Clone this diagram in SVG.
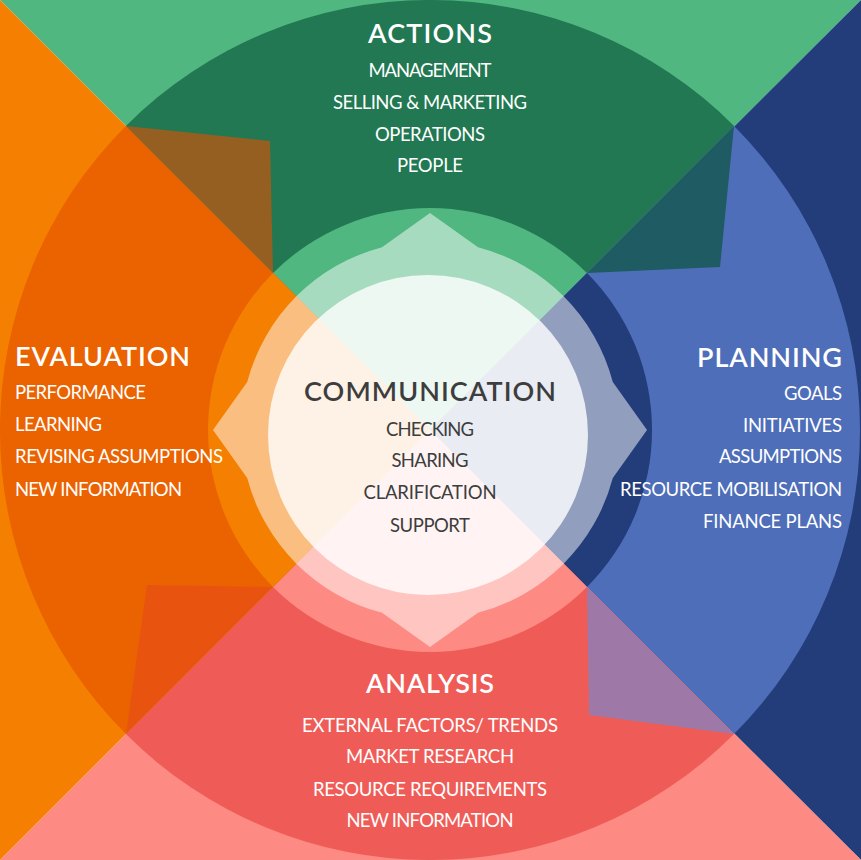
<svg xmlns="http://www.w3.org/2000/svg" width="861" height="860" viewBox="0 0 861 860">
<style>
.t{font-family:Lato,"Liberation Sans",sans-serif;fill:#fff}
.h{font-size:27px;font-weight:600}
.i{font-size:18.5px;font-weight:400}
.c{fill:#3d3d3d}
</style>
<g id="background">
<polygon points="0,0 861,0 430,430" fill="#4fb77f"/>
<polygon points="861,0 861,860 430,430" fill="#233c7a"/>
<polygon points="861,860 0,860 430,430" fill="#fd8a83"/>
<polygon points="0,860 0,0 430,430" fill="#f57f00"/>
</g>
<g id="actions">
<path d="M430,430 L125.94,125.94 A430,430 0 0 1 734.06,125.94 Z" fill="#217852"/>
<path d="M430,430 L273.02,273.02 A222,222 0 0 1 586.98,273.02 Z" fill="#4fb77f"/>
<text class="t h" x="430" y="43" text-anchor="middle" textLength="124" lengthAdjust="spacing">ACTIONS</text>
<text class="t i" x="430" y="77" text-anchor="middle" textLength="123" lengthAdjust="spacing">MANAGEMENT</text>
<text class="t i" x="430" y="109" text-anchor="middle" textLength="194" lengthAdjust="spacing">SELLING &amp; MARKETING</text>
<text class="t i" x="430" y="141" text-anchor="middle" textLength="110" lengthAdjust="spacing">OPERATIONS</text>
<text class="t i" x="430" y="172" text-anchor="middle" textLength="66" lengthAdjust="spacing">PEOPLE</text>
</g>
<g id="planning">
<path d="M430,430 L734.06,125.94 A430,430 0 0 1 734.06,734.06 Z" fill="#4e6eb9"/>
<path d="M430,430 L586.98,273.02 A222,222 0 0 1 586.98,586.98 Z" fill="#233c7a"/>
<text class="t h" x="842" y="367" text-anchor="end" textLength="145" lengthAdjust="spacing">PLANNING</text>
<text class="t i" x="842" y="400" text-anchor="end" textLength="58" lengthAdjust="spacing">GOALS</text>
<text class="t i" x="842" y="432" text-anchor="end" textLength="99" lengthAdjust="spacing">INITIATIVES</text>
<text class="t i" x="842" y="463" text-anchor="end" textLength="123" lengthAdjust="spacing">ASSUMPTIONS</text>
<text class="t i" x="842" y="496" text-anchor="end" textLength="222" lengthAdjust="spacing">RESOURCE MOBILISATION</text>
<text class="t i" x="842" y="528" text-anchor="end" textLength="139" lengthAdjust="spacing">FINANCE PLANS</text>
</g>
<g id="analysis">
<path d="M430,430 L734.06,734.06 A430,430 0 0 1 125.94,734.06 Z" fill="#ef5c57"/>
<path d="M430,430 L586.98,586.98 A222,222 0 0 1 273.02,586.98 Z" fill="#fd8a83"/>
<text class="t h" x="430" y="693" text-anchor="middle" textLength="128" lengthAdjust="spacing">ANALYSIS</text>
<text class="t i" x="430" y="732" text-anchor="middle" textLength="256" lengthAdjust="spacing">EXTERNAL FACTORS/ TRENDS</text>
<text class="t i" x="430" y="763" text-anchor="middle" textLength="168" lengthAdjust="spacing">MARKET RESEARCH</text>
<text class="t i" x="430" y="796" text-anchor="middle" textLength="234" lengthAdjust="spacing">RESOURCE REQUIREMENTS</text>
<text class="t i" x="430" y="827" text-anchor="middle" textLength="167" lengthAdjust="spacing">NEW INFORMATION</text>
</g>
<g id="evaluation">
<path d="M430,430 L125.94,734.06 A430,430 0 0 1 125.94,125.94 Z" fill="#eb6200"/>
<path d="M430,430 L273.02,586.98 A222,222 0 0 1 273.02,273.02 Z" fill="#f57f00"/>
<text class="t h" x="15" y="366" textLength="175" lengthAdjust="spacing">EVALUATION</text>
<text class="t i" x="15" y="399" textLength="131" lengthAdjust="spacing">PERFORMANCE</text>
<text class="t i" x="15" y="431" textLength="87" lengthAdjust="spacing">LEARNING</text>
<text class="t i" x="15" y="463" textLength="208" lengthAdjust="spacing">REVISING ASSUMPTIONS</text>
<text class="t i" x="15" y="496" textLength="167" lengthAdjust="spacing">NEW INFORMATION</text>
</g>
<g id="connectors">
<polygon points="126,126 270,141 273,273" fill="#955f21"/>
<polygon points="734,126 720,267 587,273" fill="#1f5b63"/>
<polygon points="587,587 589,715 734,734" fill="#9e79a8"/>
<polygon points="273,587 147,585 126,734" fill="#e85410"/>
</g>
<g id="communication">
<path d="M430,213 L478,247.2 A189,189 0 0 1 612.8,382 L647,430 L612.8,478 A189,189 0 0 1 478,612.8 L430,647 L382,612.8 A189,189 0 0 1 247.2,478 L213,430 L247.2,382 A189,189 0 0 1 382,247.2 Z" fill="#fff" fill-opacity="0.5"/>
<circle cx="428" cy="435" r="160" fill="#fff" fill-opacity="0.8"/>
<text class="t h c" x="430" y="401" text-anchor="middle" textLength="252" lengthAdjust="spacing">COMMUNICATION</text>
<text class="t i c" x="430" y="436" text-anchor="middle" textLength="88" lengthAdjust="spacing">CHECKING</text>
<text class="t i c" x="430" y="467" text-anchor="middle" textLength="77" lengthAdjust="spacing">SHARING</text>
<text class="t i c" x="430" y="499" text-anchor="middle" textLength="133" lengthAdjust="spacing">CLARIFICATION</text>
<text class="t i c" x="430" y="532" text-anchor="middle" textLength="80" lengthAdjust="spacing">SUPPORT</text>
</g>
</svg>
